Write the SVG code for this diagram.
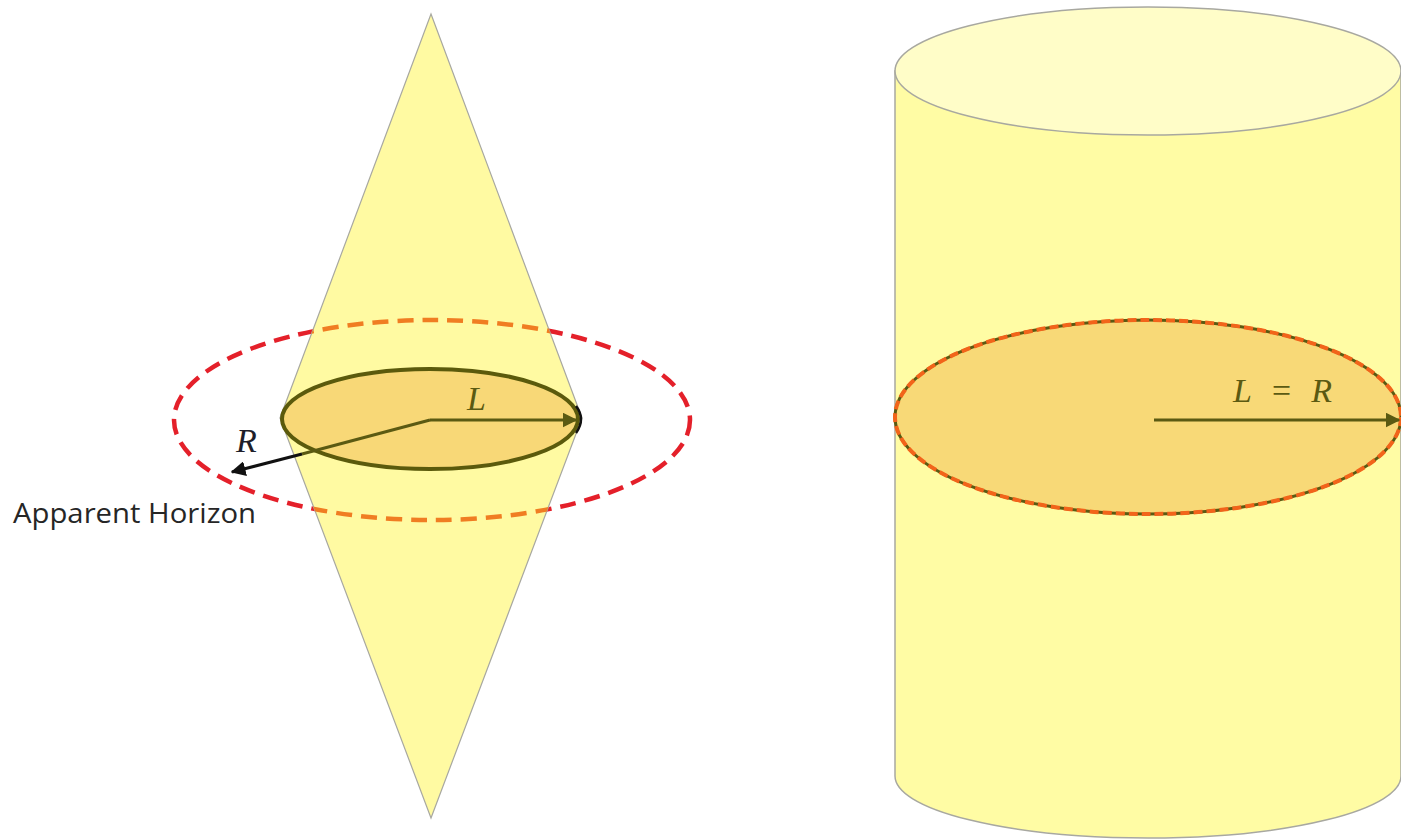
<svg xmlns="http://www.w3.org/2000/svg" width="1401" height="840" viewBox="0 0 1401 840">
<style>
.math{font-family:"Liberation Serif","DejaVu Serif",serif;font-style:italic;font-size:34px}
.lbl{font-family:"Open Sans","Liberation Sans",sans-serif;font-size:27px;fill:#262626}
.olive{stroke:#5b5a12;stroke-width:3;fill:none}
</style>
<defs>
<marker id="ahO" viewBox="0 0 10 10" refX="9" refY="5" markerWidth="5" markerHeight="5" orient="auto" markerUnits="strokeWidth">
<path d="M0,0 L10,5 L0,10 z" fill="#5b5a12"/>
</marker>
<marker id="ahK" viewBox="0 0 10 10" refX="9" refY="5" markerWidth="5" markerHeight="5" orient="auto" markerUnits="strokeWidth">
<path d="M0,0 L10,5 L0,10 z" fill="#111"/>
</marker>
<clipPath id="diamondClip">
<polygon points="431,14 582,418 431,818 280,418"/>
</clipPath>
</defs>
<rect width="1401" height="840" fill="#ffffff"/>

<g id="left-diagram">
<g id="horizon-outer">
<ellipse cx="432" cy="420" rx="258" ry="100" fill="none" stroke="#e4202a" stroke-width="4.5" stroke-dasharray="16 9"/>
</g>
<g id="diamond">
<polygon points="431,14 582,418 431,818 280,418" fill="#fffaa2" stroke="#a8a8a0" stroke-width="1.2"/>
</g>
<g id="horizon-outer-overlap" clip-path="url(#diamondClip)">
<ellipse cx="432" cy="420" rx="258" ry="100" fill="none" stroke="#f07d22" stroke-width="4.5" stroke-dasharray="16 9"/>
</g>
<g id="inner-disc">
<ellipse cx="430" cy="419" rx="148" ry="50" fill="#f8d877" stroke="#5b5a0c" stroke-width="4"/>
<path d="M576,406 Q586,419 576,433" fill="none" stroke="#111" stroke-width="2.5"/>
</g>
<g id="connectors-left">
<line class="olive" x1="430" y1="420" x2="576" y2="420" marker-end="url(#ahO)"/>
<line x1="430" y1="420" x2="302" y2="454" stroke="#5b5a12" stroke-width="3"/>
<line x1="302" y1="454" x2="232" y2="472" stroke="#111" stroke-width="3" marker-end="url(#ahK)"/>
</g>
<text class="math" x="467" y="410" fill="#5b5a12">L</text>
<text class="math" x="236" y="452" fill="#1e1e2a">R</text>
<text class="lbl" x="13" y="523" textLength="243" lengthAdjust="spacingAndGlyphs">Apparent Horizon</text>
</g>

<g id="right-diagram">
<g id="cylinder">
<path d="M895,71 L895,776 A253,62 0 0 0 1401,776 L1401,71 Z" fill="#fffca4" stroke="#a8a8a0" stroke-width="1.5"/>
<ellipse cx="1148" cy="71" rx="253" ry="64" fill="#fffdc8" stroke="#a8a8a0" stroke-width="1.5"/>
</g>
<g id="cylinder-disc">
<ellipse cx="1148" cy="417" rx="253" ry="97" fill="#f8d977" stroke="#5b5a12" stroke-width="3"/>
<ellipse cx="1148" cy="417" rx="253" ry="97" fill="none" stroke="#f2641a" stroke-width="4" stroke-dasharray="9 4"/>
</g>
<g id="connectors-right">
<line class="olive" x1="1154" y1="420" x2="1399" y2="420" marker-end="url(#ahO)"/>
</g>
<text class="math" x="1233" y="402" fill="#5b5a12" textLength="99" lengthAdjust="spacing">L = R</text>
</g>
</svg>
